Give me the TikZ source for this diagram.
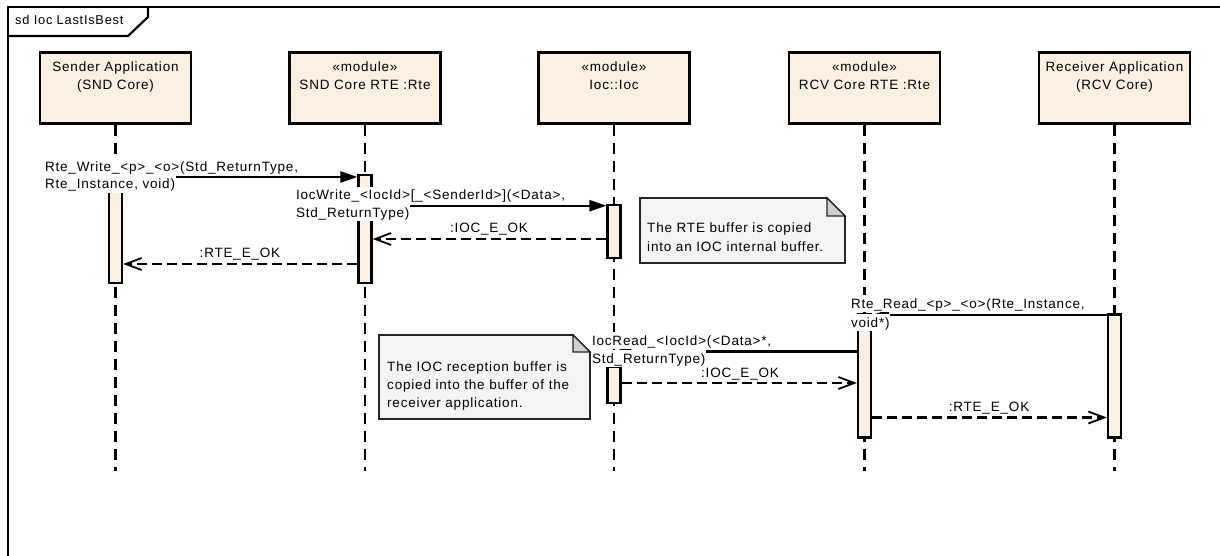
\documentclass[tikz,border=0pt]{standalone}
\usepackage{fontspec}
\setmainfont{Liberation Sans}[LetterSpace=6]
\usetikzlibrary{arrows.meta}
\definecolor{boxfill}{RGB}{251,240,225}
\definecolor{notefill}{RGB}{246,243,247}
\definecolor{foldfill}{RGB}{208,208,208}
\begin{document}
\begin{tikzpicture}[x=1pt,y=-1pt,font=\fontsize{13.5}{18}\selectfont]
\tikzset{
 head/.style={draw, fill=boxfill, line width=2.2pt, minimum width=151pt, minimum height=71pt, inner sep=0pt},
 txt/.style={inner sep=0pt, anchor=base},
 txtl/.style={inner sep=0pt, anchor=base west},
 life/.style={line width=2.2pt, dash pattern=on 11pt off 7pt},
 act/.style={draw, fill=boxfill, line width=2.2pt, minimum width=13pt, inner sep=0pt},
 msg/.style={line width=2.2pt, -{Triangle[length=17pt,width=11pt]}},
 ret/.style={line width=2.2pt, dash pattern=on 10pt off 5pt, -{Straight Barb[length=16pt,width=12pt,line width=1.8pt]}},
 mlab/.style={fill=white, inner sep=0.8pt, text height=12.5pt, text depth=3pt, anchor=base west},
 note/.style={draw=black!85, fill=notefill, line width=1.6pt},
 fold/.style={draw=black!85, fill=foldfill, line width=1.2pt},
 frame/.style={line width=2.2pt, line join=miter},
}
\useasboundingbox (0,0) rectangle (1220,556);
% frame
\draw[frame] (1220,7) -- (8,7) -- (8,556);
\draw[frame] (148,7) -- (148,17) -- (128,36) -- (8,36);
\node[txtl, font=\fontsize{12.8}{16}\selectfont] (title) at (15,25) {sd Ioc LastIsBest};
% headers
\node[head] (snd) at (115.5,88) {};
\node[head] (sndrte) at (365,88) {};
\node[head] (ioc) at (614,88) {};
\node[head] (rcvrte) at (864.5,88) {};
\node[head] (rcv) at (1114.5,88) {};
\node[txt] (sndT1) at (115.5,72) {Sender Application};
\node[txt] (sndT2) at (115.5,90) {(SND Core)};
\node[txt] (sndrteT1) at (365,72) {«module»};
\node[txt] (sndrteT2) at (365,90) {SND Core RTE :Rte};
\node[txt] (iocT1) at (614,72) {«module»};
\node[txt] (iocT2) at (614,90) {Ioc::Ioc};
\node[txt] (rcvrteT1) at (864.5,72) {«module»};
\node[txt] (rcvrteT2) at (864.5,90) {RCV Core RTE :Rte};
\node[txt] (rcvT1) at (1114.5,72) {Receiver Application};
\node[txt] (rcvT2) at (1114.5,90) {(RCV Core)};
% lifelines
\coordinate (lend) at (0,471);
\foreach \n in {snd,sndrte,ioc,rcvrte,rcv}{
  \draw[life] (\n.south) -- (\n.south |- lend);
}
% activations
\node[act, minimum height=98pt] (A1) at (115.5,234) {};
\node[act, minimum height=108pt] (A2) at (365,229) {};
\node[act, minimum height=53pt] (A3) at (614,231.5) {};
\node[act, minimum height=123pt] (A4) at (864.5,376) {};
\node[act, minimum height=123pt] (A5) at (1114.5,376) {};
\node[act, minimum height=36pt] (A6) at (614,385) {};
% message rows
\coordinate (m1) at (0,177);
\coordinate (m2) at (0,205.7);
\coordinate (m3) at (0,239);
\coordinate (m4) at (0,264);
\coordinate (m5) at (0,315);
\coordinate (m6) at (0,351.5);
\coordinate (m7) at (0,383);
\coordinate (m8) at (0,417.5);
% messages
\draw[msg] (A1.center |- m1) -- (A2.west |- m1);
\draw[msg] (A2.east |- m2) -- (A3.west |- m2);
\draw[ret] (A3.west |- m3) -- (A2.east |- m3);
\draw[ret] (A2.west |- m4) -- (A1.east |- m4);
\draw[msg] (A5.west |- m5) -- (A4.east |- m5);
\draw[msg] (A4.west |- m6) -- (ioc.south |- m6);
\draw[ret] (A6.east |- m7) -- (A4.west |- m7);
\draw[ret] (A4.east |- m8) -- (A5.west |- m8);
% message labels
\node[mlab] (l1a) at (44,172) {Rte\_Write\_<p>\_<o>(Std\_ReturnType,};
\node[mlab] (l1b) at (44,189) {Rte\_Instance, void)};
\node[mlab] (l2a) at (295,200) {IocWrite\_<IocId>[\_<SenderId>](<Data>,};
\node[mlab] (l2b) at (295,217.3) {Std\_ReturnType)};
\node[txt] (l3) at (489,232) {:IOC\_E\_OK};
\node[txt] (l4) at (240,257) {:RTE\_E\_OK};
\node[mlab] (l5a) at (850,308) {Rte\_Read\_<p>\_<o>(Rte\_Instance,};
\node[mlab] (l5b) at (850,327) {void*)};
\node[mlab] (l6a) at (591,345) {IocRead\_<IocId>(<Data>*,};
\node[mlab] (l6b) at (591,363) {Std\_ReturnType)};
\node[txt] (l7) at (740,377) {:IOC\_E\_OK};
\node[txt] (l8) at (989,411.5) {:RTE\_E\_OK};
% notes
\draw[note] (640,198) -- (827,198) -- (845,216) -- (845,263) -- (640,263) -- cycle;
\draw[fold] (827,198) -- (845,216) -- (827,216) -- cycle;
\node[txtl] (n1a) at (647,233) {The RTE buffer is copied};
\node[txtl] (n1b) at (647,251) {into an IOC internal buffer.};
\draw[note] (379,335) -- (573,335) -- (590,352) -- (590,419) -- (379,419) -- cycle;
\draw[fold] (573,335) -- (590,352) -- (573,352) -- cycle;
\node[txtl] (n2a) at (387,371) {The IOC reception buffer is};
\node[txtl] (n2b) at (387,389) {copied into the buffer of the};
\node[txtl] (n2c) at (387,407) {receiver application.};
\end{tikzpicture}
\end{document}
